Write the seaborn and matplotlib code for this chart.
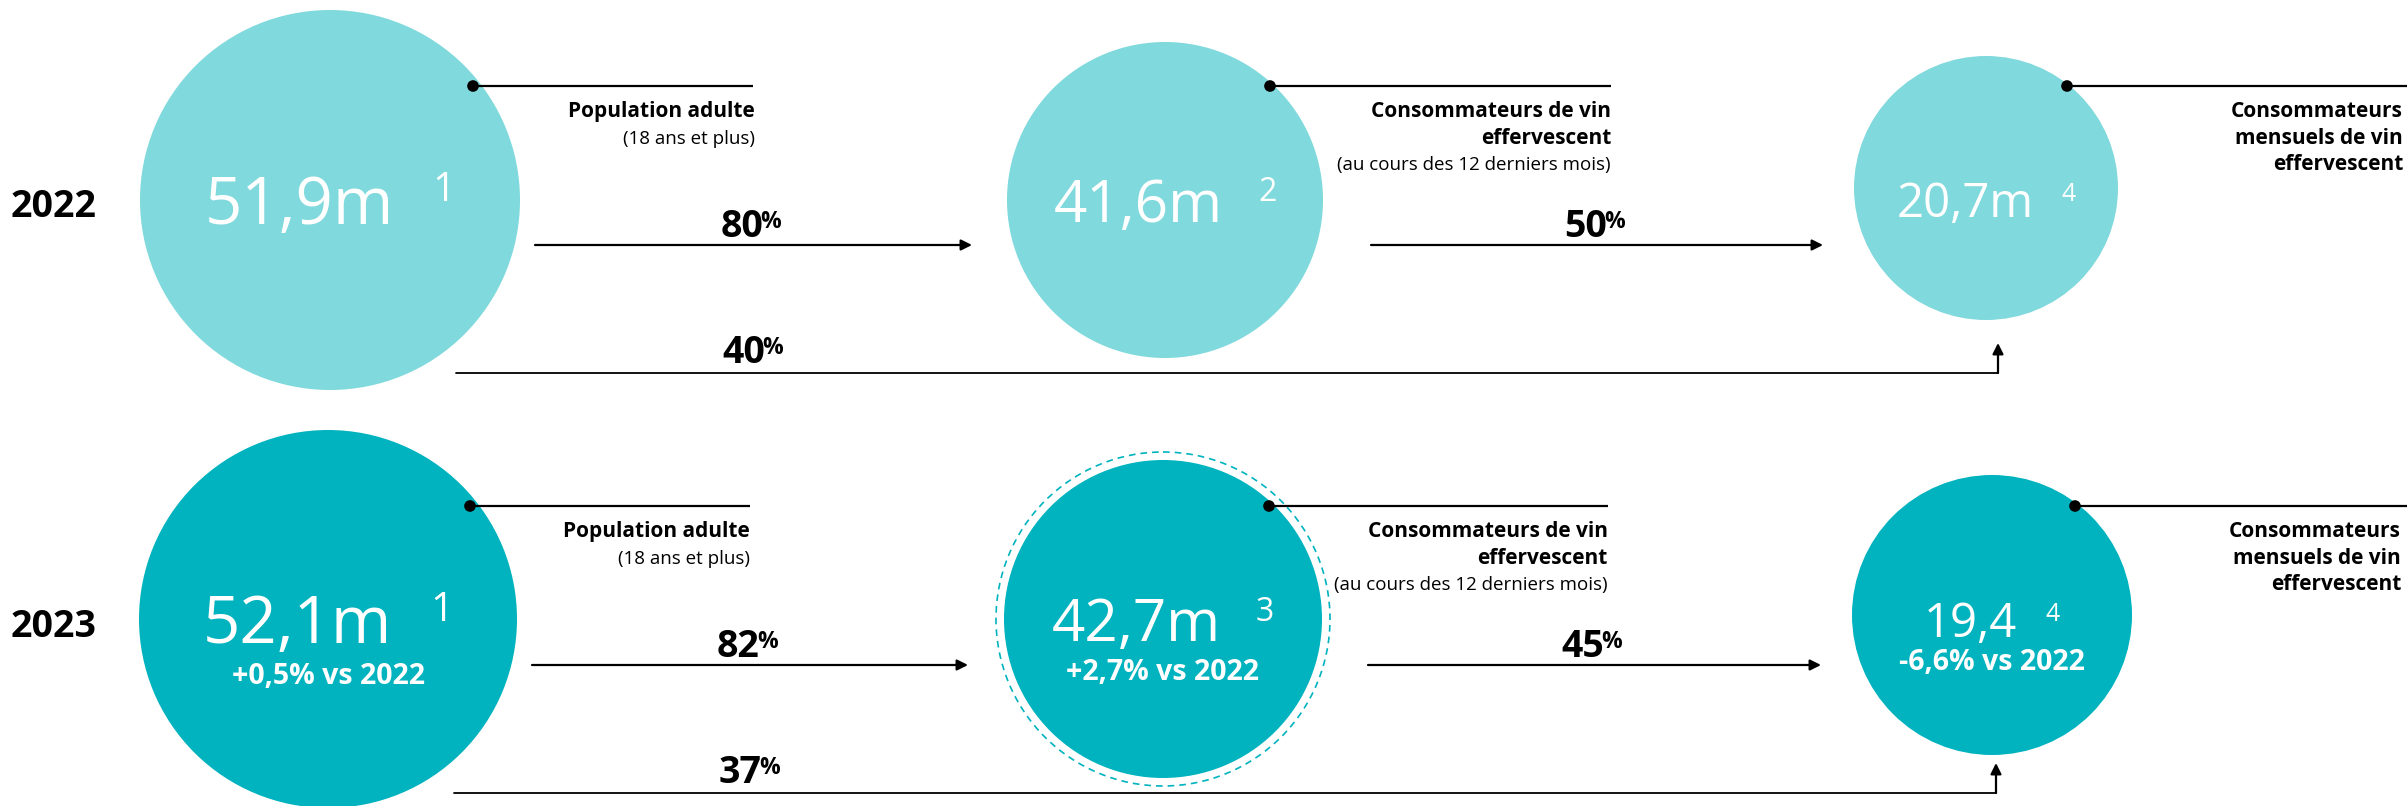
import matplotlib
matplotlib.use("Agg")
import matplotlib.pyplot as plt
from matplotlib.patches import Circle
import pandas as pd
import seaborn as sns

# chart data
years = ["2022", "2023"]
labels_2022 = ["51,9m", "41,6m", "20,7m"]
labels_2023 = ["52,1m", "42,7m", "19,4"]
notes_2022 = ["1", "2", "4"]
notes_2023 = ["1", "3", "4"]
changes_2023 = ["+0,5% vs 2022", "+2,7% vs 2022", "-6,6% vs 2022"]
step_rates_2022 = [80, 50]
step_rates_2023 = [82, 45]
overall_rates = [40, 37]
stage_titles = [["Population adulte"],
                ["Consommateurs de vin", "effervescent"],
                ["Consommateurs", "mensuels de vin", "effervescent"]]
stage_subtitles = ["(18 ans et plus)", "(au cours des 12 derniers mois)", ""]

# layout (pixels of the 2407x806 picture)
W, H = 2407, 806
row_shift = [0, 420]
circle_x = [[330, 1165, 1986], [328, 1163, 1992]]
circle_y = [[200, 200, 188], [619, 619, 615]]
circle_r = [[190, 158, 132], [189, 159, 140]]
value_base = [[224, 222, 217], [643, 641, 637]]
note_base = [[201, 201, 201], [621, 621, 621]]
change_y = [677, 673, 663]
dot_x = [[473, 1270, 2067], [470, 1269, 2075]]
line_end = [[753, 1611, 2407], [750, 1608, 2407]]
label_right = [[755, 1611, 2403], [750, 1608, 2401]]
arrow_spans = [[(535, 972), (1371, 1823)], [(532, 968), (1368, 1821)]]
bracket_x = [(456, 1998), (454, 1996)]
value_sizes = [47, 42, 34]
note_sizes = [29, 23, 18]
colors = ["#80D9DC", "#00B3BE"]

sns.set_theme(style="white")
plt.rcParams["font.family"] = ["Open Sans", "DejaVu Sans"]

fig = plt.figure(figsize=(W / 100, H / 100), dpi=100)
ax = fig.add_axes([0, 0, 1, 1])
ax.set_xlim(0, W)
ax.set_ylim(H, 0)
ax.axis("off")
renderer = fig.canvas.get_renderer()

all_labels = [labels_2022, labels_2023]
all_notes = [notes_2022, notes_2023]
all_rates = [step_rates_2022, step_rates_2023]


def pct_label(x, y, value):
    # bold number with a raised, smaller percent sign
    ax.text(x, y, str(value), fontsize=27, fontweight="bold",
            ha="right", va="baseline", color="black")
    ax.text(x - 3, y - 9, "%", fontsize=16.5, fontweight="bold",
            ha="left", va="baseline", color="black")


dots = []
for r, year in enumerate(years):
    dy = row_shift[r]
    ax.text(11, 207 + dy, year, fontsize=27, fontweight="bold", ha="left",
            va="center", color="black")
    for s in range(3):
        cx, cy, rad = circle_x[r][s], circle_y[r][s], circle_r[r][s]
        ax.add_patch(Circle((cx, cy), rad, color=colors[r], lw=0, zorder=1))
        if r == 1 and s == 1:
            ax.add_patch(Circle((cx, cy), rad + 8, fill=False, ec=colors[1],
                                lw=1.2, ls=(0, (4, 3)), zorder=1))
        # value + footnote, centred as one group
        t1 = ax.text(0, value_base[r][s], all_labels[r][s], fontsize=value_sizes[s],
                     color="white", ha="left", va="baseline", zorder=3)
        t2 = ax.text(0, note_base[r][s], all_notes[r][s], fontsize=note_sizes[s],
                     color="white", ha="left", va="baseline", zorder=3)
        w1 = t1.get_window_extent(renderer).width
        w2 = t2.get_window_extent(renderer).width
        gap = 0.6 * value_sizes[s] * 100 / 72
        x0 = cx - (w1 + gap + w2) / 2
        t1.set_x(x0)
        t2.set_x(x0 + w1 + gap)
        if r == 1:
            ax.text(cx, change_y[s], changes_2023[s], fontsize=20.5, fontweight="bold",
                    color="white", ha="center", va="center", zorder=3)
        # callout
        dots.append({"x": dot_x[r][s], "y": 86 + dy})
        ax.plot([dot_x[r][s], line_end[r][s]], [86 + dy, 86 + dy], color="black",
                lw=1.6, zorder=2, solid_capstyle="butt")
        lines = [(t, "bold", 15) for t in stage_titles[s]]
        if stage_subtitles[s]:
            lines.append((stage_subtitles[s], "normal", 13.5))
        for k, (txt, wt, fs) in enumerate(lines):
            ax.text(label_right[r][s], 117 + 26.5 * k + dy, txt, fontsize=fs,
                    fontweight=wt, ha="right", va="baseline", color="black")
    # step arrows
    for k, (xa, xb) in enumerate(arrow_spans[r]):
        ya = 245 + dy
        ax.annotate("", xy=(xb, ya), xytext=(xa, ya),
                    arrowprops=dict(arrowstyle="-|>", color="black", lw=1.6,
                                    mutation_scale=16, shrinkA=0, shrinkB=0))
        pct_label((xa + xb) / 2 + 10, ya - 8, all_rates[r][k])
    # overall bracket
    xa, xb = bracket_x[r]
    yb = 373 + dy
    ax.plot([xa, xb], [yb, yb], color="black", lw=1.3, zorder=2)
    ax.annotate("", xy=(xb, yb - 30), xytext=(xb, yb),
                arrowprops=dict(arrowstyle="-|>", color="black", lw=1.6,
                                mutation_scale=16, shrinkA=0, shrinkB=0))
    pct_label((arrow_spans[r][0][0] + arrow_spans[r][0][1]) / 2 + 12, yb - 10,
              overall_rates[r])

dots_df = pd.DataFrame(dots)
sns.scatterplot(data=dots_df, x="x", y="y", ax=ax, color="black", s=70,
                edgecolor="none", zorder=4, legend=False)
ax.set_xlim(0, W)
ax.set_ylim(H, 0)
ax.axis("off")

fig.savefig("out.png", dpi=100)
